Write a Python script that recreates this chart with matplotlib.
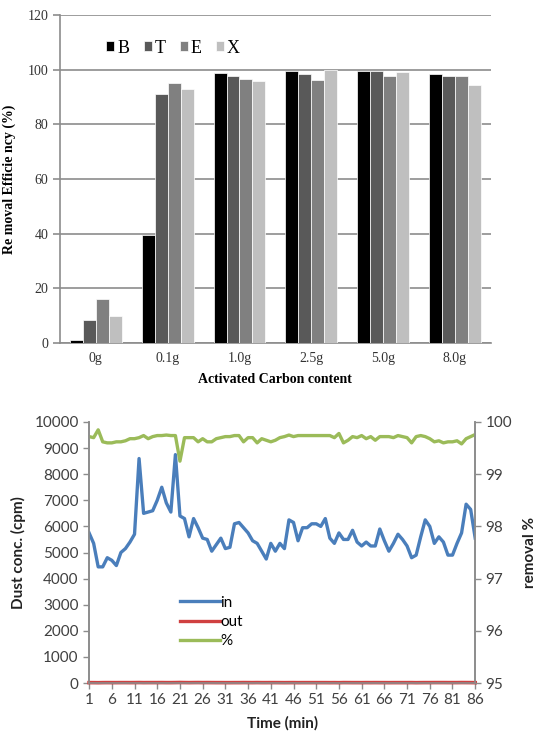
import numpy as np
import matplotlib
matplotlib.use("Agg")
import matplotlib.pyplot as plt
from matplotlib.lines import Line2D

# top chart: removal efficiency by activated carbon amount
carbon = ["0g", "0.1g", "1.0g", "2.5g", "5.0g", "8.0g"]
compounds = ["B", "T", "E", "X"]
eff_B = [1.0, 39.5, 98.8, 99.4, 99.7, 98.3]
eff_T = [8.5, 91.0, 97.6, 98.3, 99.4, 97.6]
eff_E = [16.0, 95.0, 96.8, 96.3, 97.7, 97.6]
eff_X = [10.0, 93.0, 96.0, 99.8, 99.2, 94.6]
bar_colors = ["#000000", "#595959", "#808080", "#bfbfbf"]

# bottom chart: dust concentration over time
time_min = list(range(1, 87))
dust_in = [5750, 5350, 4450, 4450, 4800, 4700, 4500, 5000, 5150, 5400,
           5700, 8600, 6500, 6550, 6600, 7000, 7500, 6900, 6550, 8750,
           6400, 6300, 5600, 6300, 5950, 5550, 5500, 5050, 5300, 5550,
           5150, 5200, 6100, 6150, 5950, 5750, 5450, 5350, 5050, 4750,
           5350, 5050, 5350, 5150, 6250, 6150, 5450, 5950, 5950, 6100,
           6100, 6000, 6300, 5550, 5350, 5750, 5500, 5500, 5850, 5400,
           5250, 5400, 5250, 5250, 5900, 5450, 5050, 5350, 5700, 5500,
           5250, 4800, 4900, 5600, 6250, 6000, 5350, 5600, 5400, 4900,
           4900, 5350, 5750, 6850, 6650, 5550]
dust_out = [15, 14, 12, 15, 16, 15, 15, 16, 16, 15,
            16, 18, 15, 16, 16, 16, 17, 15, 15, 17,
            20, 17, 15, 17, 18, 16, 17, 16, 15, 15,
            14, 14, 15, 15, 17, 16, 15, 17, 15, 15,
            16, 16, 15, 14, 15, 16, 14, 15, 15, 15,
            15, 15, 15, 14, 15, 13, 17, 16, 15, 15,
            14, 16, 15, 16, 15, 15, 14, 15, 15, 15,
            15, 16, 13, 15, 16, 16, 17, 17, 17, 16,
            16, 16, 18, 17, 16, 13]
removal = [99.72, 99.70, 99.85, 99.62, 99.60, 99.60, 99.62, 99.62, 99.64, 99.68,
           99.68, 99.70, 99.74, 99.68, 99.72, 99.74, 99.74, 99.75, 99.74, 99.74,
           99.25, 99.70, 99.70, 99.70, 99.62, 99.68, 99.62, 99.62, 99.68, 99.70,
           99.72, 99.72, 99.74, 99.74, 99.62, 99.70, 99.70, 99.60, 99.68, 99.65,
           99.62, 99.65, 99.70, 99.72, 99.75, 99.72, 99.74, 99.74, 99.74, 99.74,
           99.74, 99.74, 99.74, 99.74, 99.70, 99.78, 99.60, 99.65, 99.72, 99.70,
           99.74, 99.68, 99.72, 99.65, 99.72, 99.72, 99.72, 99.70, 99.74, 99.72,
           99.70, 99.60, 99.72, 99.74, 99.72, 99.68, 99.62, 99.64, 99.60, 99.62,
           99.62, 99.64, 99.58, 99.68, 99.72, 99.76]

fig = plt.figure(figsize=(5.4, 7.38), dpi=100)

# ---------- top: grouped bars ----------
serif = "Liberation Serif"
ax1 = fig.add_axes([0.111, 0.535, 0.798, 0.4445])
x = np.arange(len(carbon))
w = 0.18
series = [eff_B, eff_T, eff_E, eff_X]
for i, (vals, c) in enumerate(zip(series, bar_colors)):
    ax1.bar(x + (i - 1.5) * w, vals, w, color=c, edgecolor="white",
            linewidth=0.5, label=compounds[i], zorder=3)

ax1.set_xlim(-0.5, len(carbon) - 0.5)
ax1.set_ylim(0, 120)
ax1.set_yticks(range(0, 121, 20))
ax1.set_xticks(x)
ax1.set_xticklabels(carbon, fontfamily=serif, fontsize=10)
for t in ax1.get_yticklabels():
    t.set_fontfamily(serif)
    t.set_fontsize(10)
ax1.grid(axis="y", color="#8c8c8c", linewidth=1.2, zorder=0)
ax1.tick_params(axis="y", length=5, color="#8c8c8c", width=1.2, colors="#333333")
ax1.tick_params(axis="x", length=0, pad=6, colors="#333333")
for s in ["top", "right"]:
    ax1.spines[s].set_visible(False)
for s in ["left", "bottom"]:
    ax1.spines[s].set_color("#8c8c8c")
    ax1.spines[s].set_linewidth(1.2)
ax1.set_ylabel("Re moval Efficie ncy (%)", fontfamily=serif, fontweight="bold",
               fontsize=10, labelpad=8)
ax1.set_xlabel("Activated Carbon content", fontfamily=serif, fontweight="bold",
               fontsize=10, labelpad=6)
ax1.legend(loc="upper left", bbox_to_anchor=(0.07, 0.975), ncol=4, frameon=False,
           handlelength=0.45, handleheight=0.45, handletextpad=0.15, columnspacing=0.8,
           prop={"family": serif, "size": 13})

# ---------- bottom: dust concentration ----------
sans = "Lato"
tick_col = "#404040"
ax2 = fig.add_axes([0.165, 0.0745, 0.715, 0.3537])
ax3 = ax2.twinx()
ax2.plot(time_min, dust_in, color="#4a7ebb", linewidth=2.4, zorder=3)
ax2.plot(time_min, dust_out, color="#d04040", linewidth=2.6, zorder=4, clip_on=False)
ax3.plot(time_min, removal, color="#9bbb59", linewidth=2.4)

ax2.set_xlim(1, 86)
ax2.set_ylim(0, 10000)
ax2.set_yticks(range(0, 10001, 1000))
ax2.set_xticks(range(1, 87, 5))
ax3.set_ylim(95, 100)
ax3.set_yticks(range(95, 101))

for a in (ax2, ax3):
    a.spines["top"].set_visible(False)
    for s in ["left", "right", "bottom"]:
        a.spines[s].set_color("#8c8c8c")
        a.spines[s].set_linewidth(1.2)
    a.tick_params(length=4, width=1.0, color="#8c8c8c", labelcolor=tick_col, labelsize=11)
    for t in a.get_xticklabels() + a.get_yticklabels():
        t.set_fontfamily(sans)

ax2.set_ylabel("Dust conc. (cpm)", fontfamily=sans, fontweight="bold", fontsize=11,
               color="#222222", labelpad=6)
ax3.set_ylabel("removal %", fontfamily=sans, fontweight="bold", fontsize=11,
               color="#222222", rotation=90, labelpad=8)
ax2.set_xlabel("Time (min)", fontfamily=sans, fontweight="bold", fontsize=11,
               color="#222222", labelpad=6)

handles = [Line2D([], [], color="#4a7ebb", linewidth=2.4),
           Line2D([], [], color="#d04040", linewidth=2.4),
           Line2D([], [], color="#9bbb59", linewidth=2.4)]
ax2.legend(handles, ["in", "out", "%"], loc="lower left", bbox_to_anchor=(0.2, 0.08),
           frameon=False, handlelength=2.6, handletextpad=0.05, labelspacing=0.35,
           prop={"family": sans, "size": 11})

fig.savefig("out.png", dpi=100)
